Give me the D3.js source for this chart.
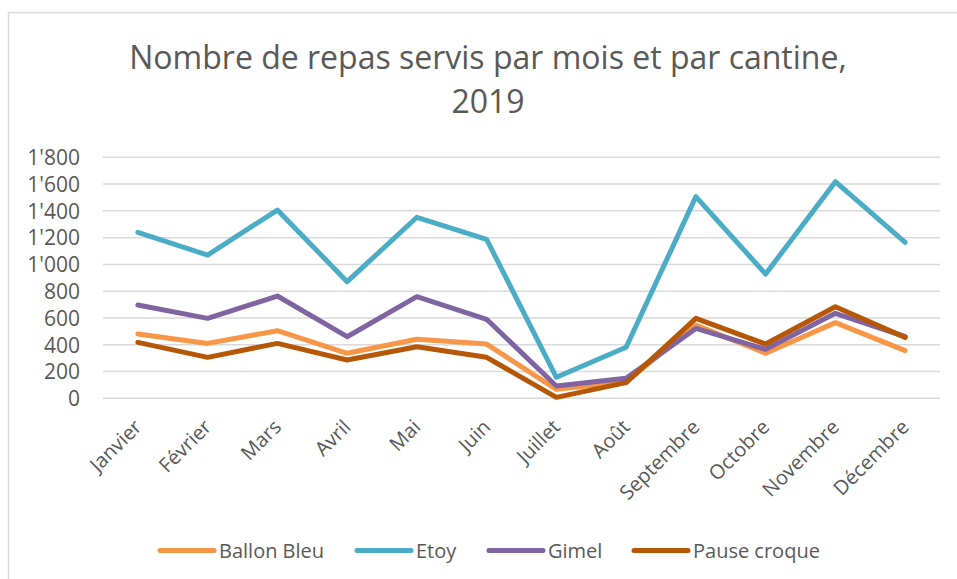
<!DOCTYPE html>
<html>
<head>
<meta charset="utf-8">
<script src="https://cdn.jsdelivr.net/npm/d3@7"></script>
<style>
  html, body { margin: 0; padding: 0; background: #fff; }
  svg { display: block; font-family: "Open Sans", sans-serif; }
</style>
</head>
<body>
<svg id="chart" width="957" height="579"></svg>
<script>
const months = ["Janvier","Février","Mars","Avril","Mai","Juin","Juillet","Août","Septembre","Octobre","Novembre","Décembre"];
const ballonBleu  = [480, 410, 505, 336, 441, 405, 67, 124, 547, 336, 565, 356];
const etoy        = [1240, 1070, 1406, 871, 1352, 1187, 157, 381, 1506, 928, 1618, 1165];
const gimel       = [697, 597, 764, 460, 759, 590, 92, 149, 522, 366, 635, 460];
const pauseCroque = [418, 306, 410, 286, 385, 306, 7, 117, 597, 405, 684, 455];
const yTicks = [0, 200, 400, 600, 800, 1000, 1200, 1400, 1600, 1800];
const seriesNames = ["Ballon Bleu", "Etoy", "Gimel", "Pause croque"];
const seriesColors = ["#F79646", "#4BACC6", "#8064A2", "#B65708"];
const titleLines = ["Nombre de repas servis par mois et par cantine,", "2019"];

const series = [ballonBleu, etoy, gimel, pauseCroque].map((v, i) => ({name: seriesNames[i], color: seriesColors[i], values: v}));

const svg = d3.select("#chart");
const plot = {left: 103, right: 940, top: 157.3, bottom: 398.3};

// chart border
svg.append("rect").attr("x", 8.5).attr("y", 12.5).attr("width", 1000).attr("height", 1000)
  .attr("fill", "none").attr("stroke", "#D9D9D9").attr("stroke-width", 1.5);

// title
svg.append("g").selectAll("text").data(titleLines).join("text")
  .attr("x", 488).attr("y", (d, i) => 69 + i * 44)
  .attr("text-anchor", "middle").attr("fill", "#595959")
  .attr("font-size", 32).attr("font-weight", 400)
  .text(d => d);

const x = d3.scaleBand().domain(months).range([plot.left, plot.right]).padding(0);
const y = d3.scaleLinear().domain([0, 1800]).range([plot.bottom, plot.top]);

// gridlines
svg.append("g").selectAll("line").data(yTicks).join("line")
  .attr("x1", plot.left).attr("x2", plot.right)
  .attr("y1", d => y(d)).attr("y2", d => y(d))
  .attr("stroke", "#D9D9D9").attr("stroke-width", 1.5);

// y axis labels
const fmt = d => d3.format(",")(d).replace(/,/g, "'");
const yAxis = d3.axisLeft(y).tickValues(yTicks).tickFormat(fmt).tickSize(0).tickPadding(0);
const yg = svg.append("g").attr("transform", `translate(80,0)`).call(yAxis);
yg.select(".domain").remove();
yg.selectAll("text").attr("font-size", 21).attr("fill", "#595959").attr("font-family", "Open Sans").attr("dy", "0.35em");

// x axis labels
const xAxis = d3.axisBottom(x).tickSize(0).tickPadding(0);
const xg = svg.append("g").attr("transform", `translate(0,${plot.bottom})`).call(xAxis);
xg.select(".domain").remove();
xg.selectAll("text")
  .attr("font-size", 20).attr("fill", "#595959").attr("font-family", "Open Sans")
  .attr("text-anchor", "end").attr("dy", null).attr("y", 0)
  .attr("transform", "translate(5,30) rotate(-45)");

// lines
const line = d3.line().x((d, i) => x(months[i]) + x.bandwidth() / 2).y(d => y(d));
svg.append("g").selectAll("path").data(series).join("path")
  .attr("d", d => line(d.values))
  .attr("fill", "none").attr("stroke", d => d.color)
  .attr("stroke-width", 5).attr("stroke-linecap", "round").attr("stroke-linejoin", "round");

// legend
const legendX = [160, 357, 489, 634];
const lg = svg.append("g").selectAll("g").data(series).join("g")
  .attr("transform", (d, i) => `translate(${legendX[i]},550.5)`);
lg.append("line").attr("x1", 0).attr("x2", 54).attr("y1", 0).attr("y2", 0)
  .attr("stroke", d => d.color).attr("stroke-width", 5).attr("stroke-linecap", "round");
lg.append("text").attr("x", 59).attr("y", 7)
  .attr("font-size", 20).attr("fill", "#595959").text(d => d.name);
</script>
</body>
</html>
